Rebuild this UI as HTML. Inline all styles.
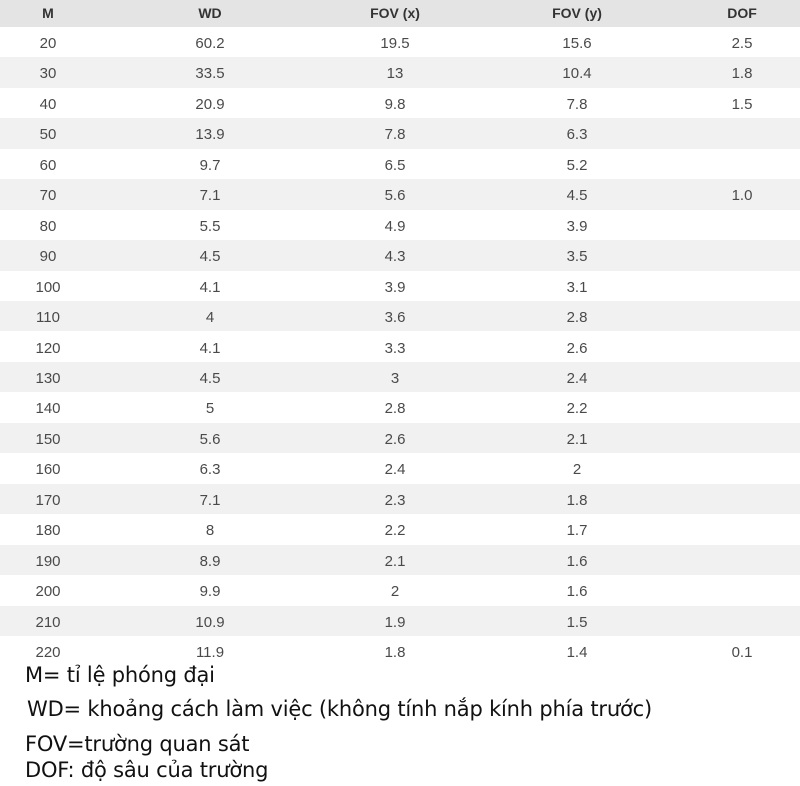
<!DOCTYPE html>
<html><head><meta charset="utf-8"><style>
body{margin:0;width:800px;height:786px;background:#fff;position:relative;overflow:hidden;font-family:"Liberation Sans",Arial,sans-serif}
.r{position:absolute;left:0;width:800px;height:30.45px}
.c{position:absolute;top:2px;line-height:30.45px;font-size:15px;color:#4a4a4a;transform:translateX(-50%);white-space:nowrap}
.h{position:absolute;left:0;top:0;width:800px;height:27px;background:#e4e4e4}
.h .c{top:0;line-height:27px;font-weight:bold;font-size:14px;color:#333}
.f{position:absolute;font-size:21px;color:#111;white-space:nowrap;font-family:"DejaVu Sans","Liberation Sans",sans-serif;letter-spacing:-0.2px}
</style></head><body>
<div class="h"><span class="c" style="left:48px">M</span><span class="c" style="left:210px">WD</span><span class="c" style="left:395px">FOV (x)</span><span class="c" style="left:577px">FOV (y)</span><span class="c" style="left:742px">DOF</span></div>
<div id="t"></div>
<div class="f" style="left:25px;top:663px">M= tỉ lệ phóng đại</div>
<div class="f" style="left:27px;top:697px">WD= khoảng cách làm việc (không tính nắp kính phía trước)</div>
<div class="f" style="left:25px;top:732px">FOV=trường quan sát</div>
<div class="f" style="left:25px;top:758px">DOF: độ sâu của trường</div>
<script>
var d=[[20,"60.2","19.5","15.6","2.5"],[30,"33.5","13","10.4","1.8"],[40,"20.9","9.8","7.8","1.5"],[50,"13.9","7.8","6.3",""],[60,"9.7","6.5","5.2",""],[70,"7.1","5.6","4.5","1.0"],[80,"5.5","4.9","3.9",""],[90,"4.5","4.3","3.5",""],[100,"4.1","3.9","3.1",""],[110,"4","3.6","2.8",""],[120,"4.1","3.3","2.6",""],[130,"4.5","3","2.4",""],[140,"5","2.8","2.2",""],[150,"5.6","2.6","2.1",""],[160,"6.3","2.4","2",""],[170,"7.1","2.3","1.8",""],[180,"8","2.2","1.7",""],[190,"8.9","2.1","1.6",""],[200,"9.9","2","1.6",""],[210,"10.9","1.9","1.5",""],[220,"11.9","1.8","1.4","0.1"]];
var x=[48,210,395,577,742],h="";
d.forEach(function(r,i){h+='<div class="r" style="top:'+(27+i*30.45)+'px;background:'+(i%2?'#f1f1f1':'#fff')+'">';r.forEach(function(v,j){h+='<span class="c" style="left:'+x[j]+'px">'+v+'</span>'});h+='</div>'});
document.getElementById('t').innerHTML=h;
</script>
</body></html>
